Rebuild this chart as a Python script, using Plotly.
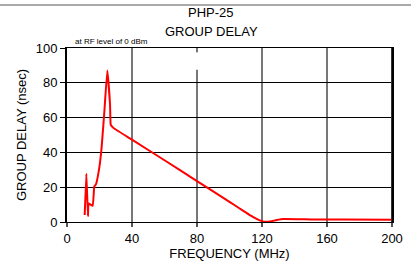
import plotly.graph_objects as go

freq_mhz = [10.9, 11.9, 12.9, 13.3, 15.8, 16.8, 17.8, 19.9, 21.3, 23.0, 24.8, 26.5, 26.9, 28.5,
            40.0, 60.0, 80.0, 100.0, 106.5, 112.0, 117.0, 120.0, 122.0, 125.0, 129.0, 133.0, 150.0, 170.0, 200.0]
delay_ns = [4.0, 27.7, 3.4, 10.6, 9.3, 20.5, 21.6, 31.4, 42.8, 63.6, 87.0, 67.4, 56.0, 54.1,
            47.3, 35.5, 23.5, 11.6, 7.6, 4.3, 1.7, 0.5, 0.1, 0.3, 1.1, 1.7, 1.5, 1.4, 1.3]

x_ticks = [0, 40, 80, 120, 160, 200]
y_ticks = [0, 20, 40, 60, 80, 100]

FONT = "Liberation Sans, Arial, sans-serif"

fig = go.Figure()
fig.add_trace(go.Scatter(x=freq_mhz, y=delay_ns, mode="lines",
                         line=dict(color="#ff0000", width=2, shape="spline", smoothing=0.3),
                         showlegend=False, hoverinfo="skip"))

fig.update_layout(
    width=414, height=267,
    margin=dict(l=67, r=22, t=48, b=45),
    paper_bgcolor="white", plot_bgcolor="white",
    font=dict(family=FONT, size=13, color="black"),
    xaxis=dict(range=[0, 200], tickvals=x_ticks, ticks="outside", ticklen=4,
               tickcolor="#555", tickwidth=2, automargin=False,
               showgrid=True, gridcolor="#777", gridwidth=2,
               showline=True, linecolor="black", linewidth=1, mirror=True,
               zeroline=False,
               title=dict(text="FREQUENCY (MHz)", standoff=4, font=dict(size=13))),
    yaxis=dict(range=[0, 100], tickvals=y_ticks, ticks="outside", ticklen=5,
               tickcolor="black", tickwidth=1, automargin=False,
               showgrid=True, gridcolor="black", gridwidth=1,
               showline=True, linecolor="black", linewidth=2, mirror=True,
               zeroline=False,
               title=dict(text="GROUP DELAY (nsec)", standoff=6, font=dict(size=13))),
    annotations=[
        dict(text="PHP-25", xref="paper", yref="paper", x=(211-67)/325, y=1+(48-12)/174,
             showarrow=False, font=dict(size=13), xanchor="center", yanchor="middle"),
        dict(text="GROUP DELAY", xref="paper", yref="paper", x=(211-67)/325, y=1+(48-31)/174,
             showarrow=False, font=dict(size=13), xanchor="center", yanchor="middle"),
        dict(text="at RF level of 0 dBm", xref="paper", yref="paper", x=(73-67)/325, y=1+(48-42)/174,
             showarrow=False, font=dict(size=8), xanchor="left", yanchor="middle"),
    ],
    shapes=[
        dict(type="line", xref="paper", yref="paper", x0=-67/325, x1=(411-67)/325,
             y0=1+(48-5)/174, y1=1+(48-5)/174, line=dict(color="#555", width=1)),
        dict(type="rect", xref="x", yref="y", x0=79.0, x1=81.0, y0=87.5, y1=97.5,
             fillcolor="white", line=dict(width=0), layer="above"),
        dict(type="line", xref="x", yref="paper", x0=200, x1=200, y0=0, y1=1,
             line=dict(color="#333", width=2)),
    ],
)

fig.write_html("out.html", config={"displayModeBar": False},
               post_script="document.body.style.margin='0';document.body.style.overflow='hidden';")
